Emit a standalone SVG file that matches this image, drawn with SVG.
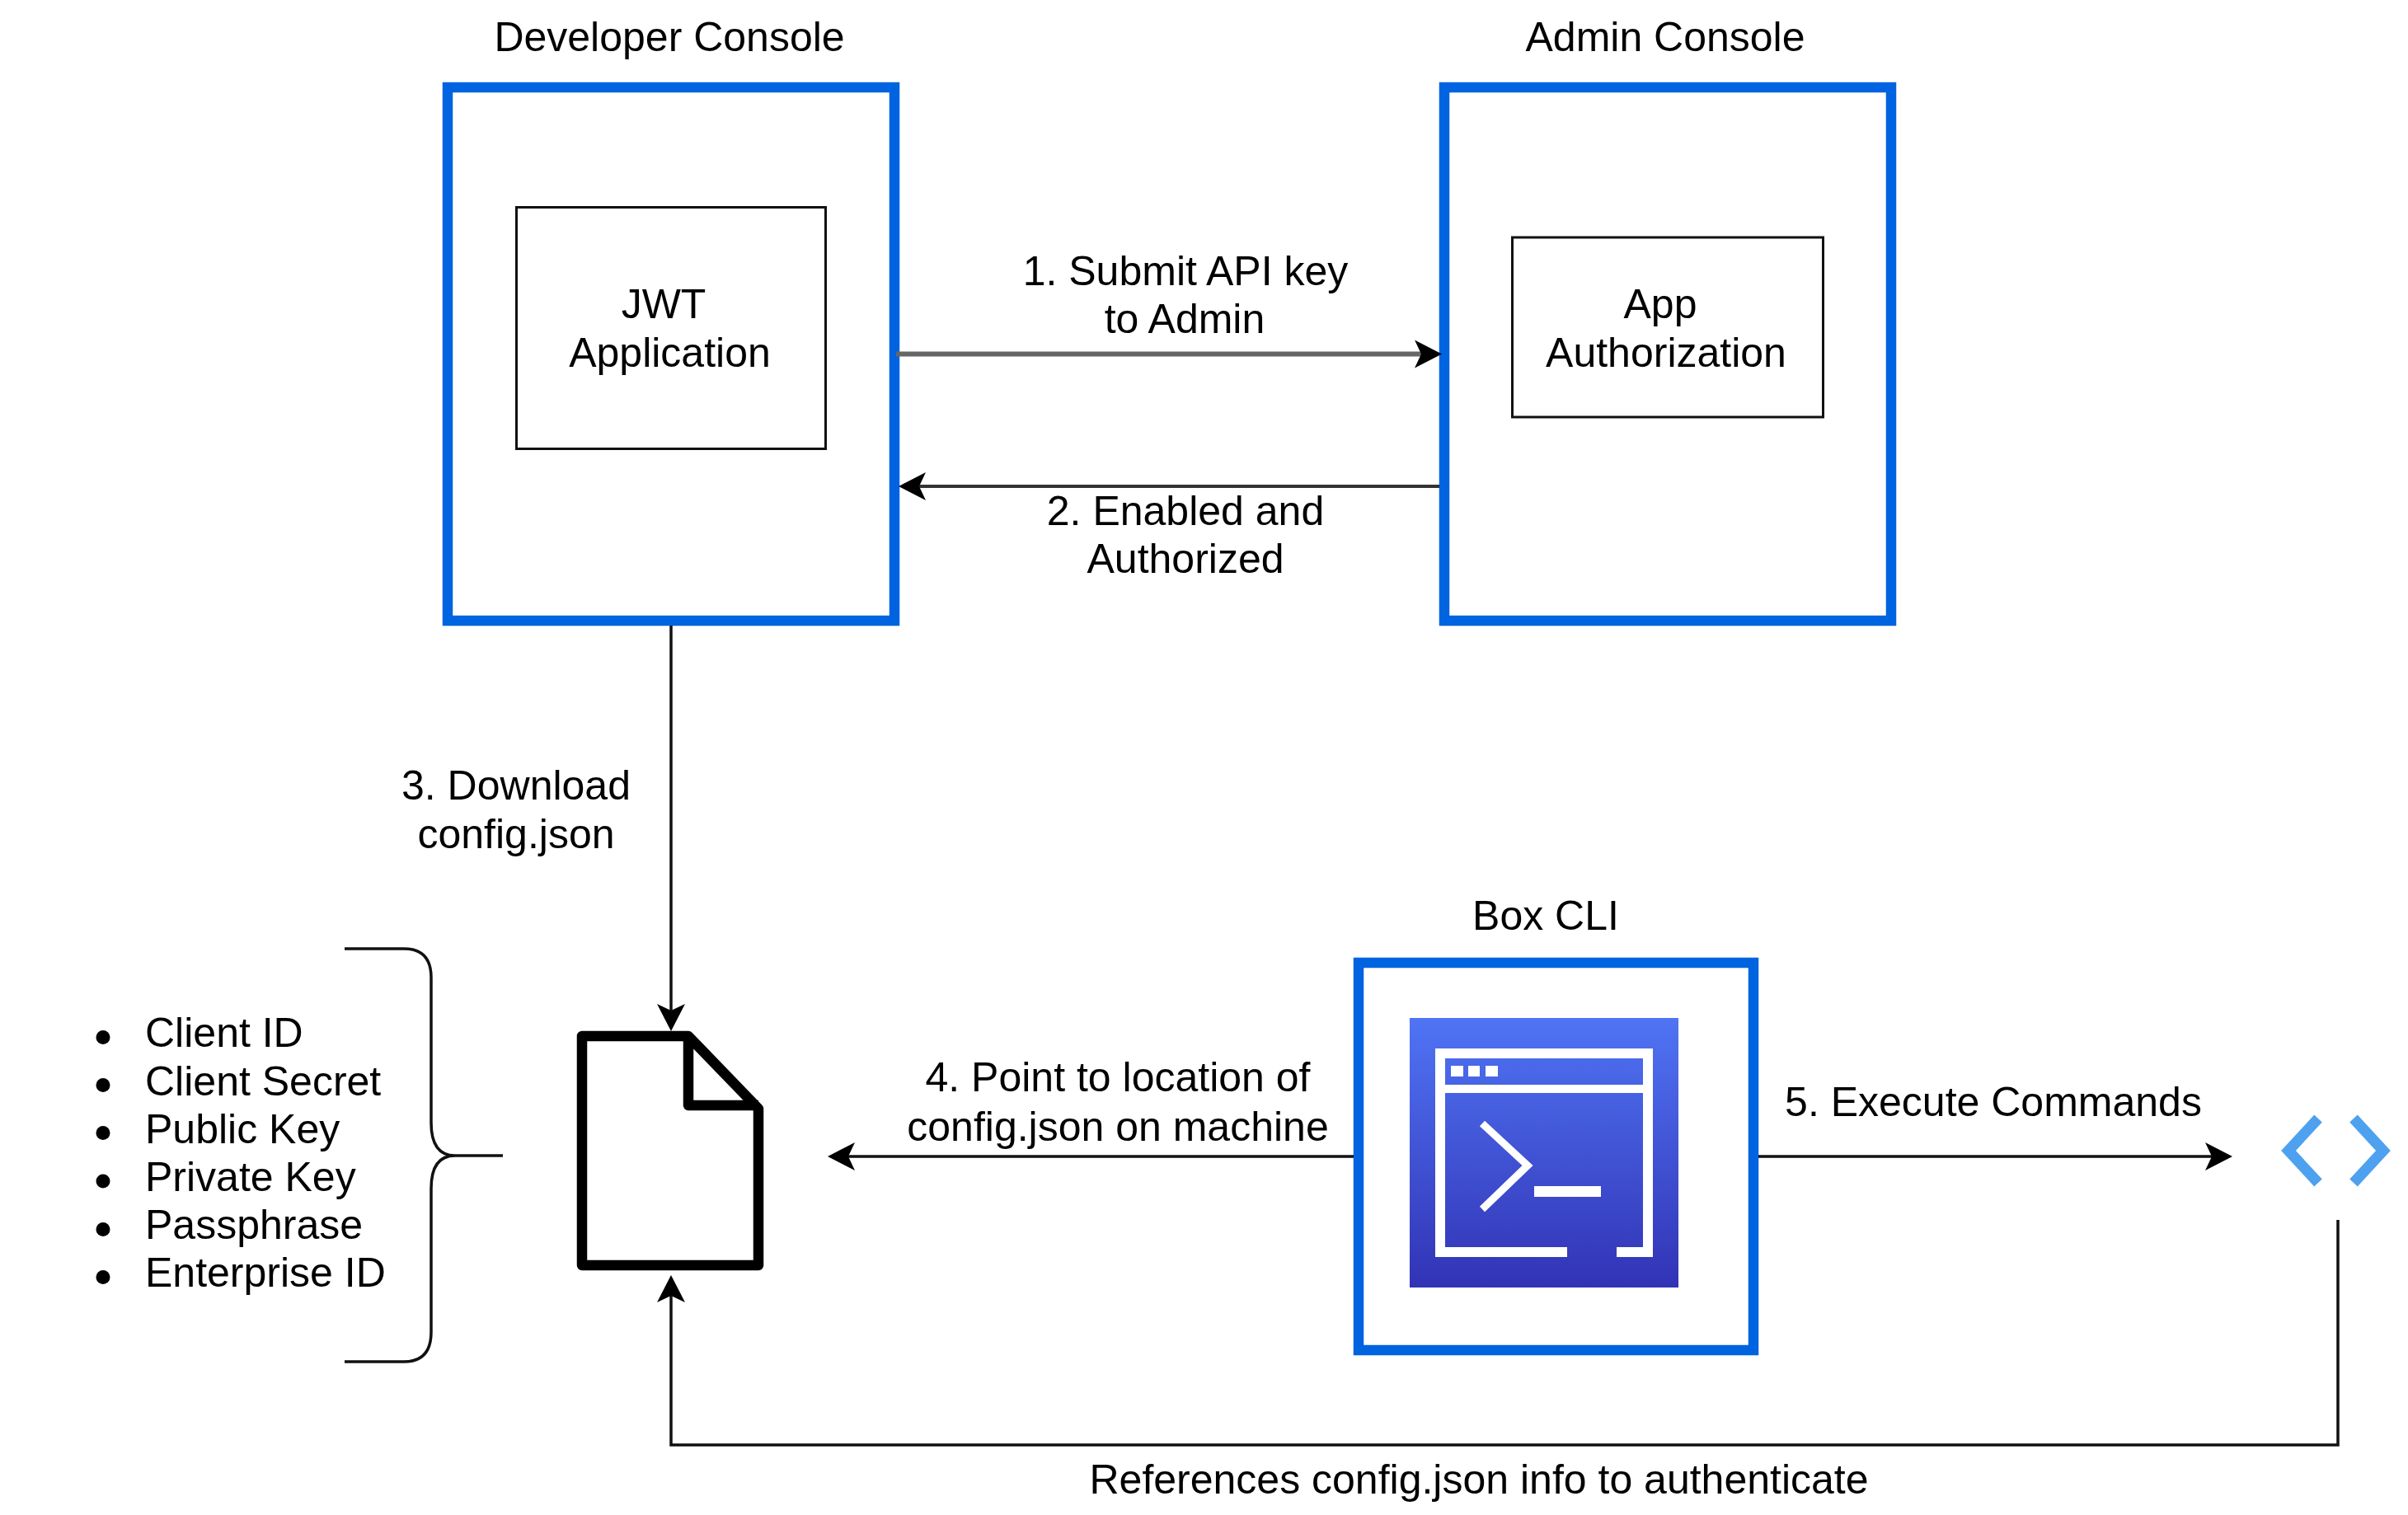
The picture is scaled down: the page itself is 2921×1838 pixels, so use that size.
<svg xmlns="http://www.w3.org/2000/svg" width="2921" height="1838" viewBox="0 0 2921 1838">
<style>
text{font-family:"Liberation Sans",Arial,Helvetica,sans-serif;font-size:50px;fill:#000;text-anchor:middle}
.box{fill:#fff;stroke:#0063e0;stroke-width:12.5}
.inner{fill:#fff;stroke:#111;stroke-width:3}
.conn{fill:none;stroke:#111;stroke-width:3.5}
.w{fill:none;stroke:#fff;stroke-width:12}
.lst{text-anchor:start}
</style>
<defs>
<marker id="a" markerUnits="userSpaceOnUse" markerWidth="40" markerHeight="40" refX="23" refY="17" orient="auto">
<path d="M33 17L0 0L8 17L0 34Z" fill="#000"/>
</marker>
<linearGradient id="g" x1="0" y1="0" x2="0" y2="1">
<stop offset="0" stop-color="#4f74f4"/>
<stop offset="1" stop-color="#3233b5"/>
</linearGradient>
</defs>
<rect width="2921" height="1838" fill="#fff"/>
<g id="developer-console">
<rect class="box" x="543" y="106" width="542" height="647"/>
<text x="812" y="62">Developer Console</text>
</g>
<g id="jwt-application">
<rect class="inner" x="626.500" y="251.500" width="375" height="293"/>
<text x="805" y="386">JWT</text>
<text x="812.500" y="445">Application</text>
</g>
<g id="admin-console">
<rect class="box" x="1752" y="106" width="542" height="647"/>
<text x="2020" y="62">Admin Console</text>
</g>
<g id="app-authorization">
<rect class="inner" x="1834.500" y="288" width="377" height="218"/>
<text x="2014" y="386">App</text>
<text x="2021" y="445">Authorization</text>
</g>
<g id="config-file">
<path d="M706 1257H835L920 1345V1535H706Z" fill="#fff" stroke="#000" stroke-width="12.500" stroke-linejoin="round"/>
<path d="M835 1257V1341H920" fill="none" stroke="#000" stroke-width="12.500" stroke-linejoin="round"/>
</g>
<g id="field-list">
<circle cx="125" cy="1258.500" r="8.500"/><text class="lst" x="176" y="1270">Client ID</text>
<circle cx="125" cy="1316.500" r="8.500"/><text class="lst" x="176" y="1329">Client Secret</text>
<circle cx="125" cy="1374.500" r="8.500"/><text class="lst" x="176" y="1387">Public Key</text>
<circle cx="125" cy="1433" r="8.500"/><text class="lst" x="176" y="1445">Private Key</text>
<circle cx="125" cy="1491.500" r="8.500"/><text class="lst" x="176" y="1503">Passphrase</text>
<circle cx="125" cy="1549.500" r="8.500"/><text class="lst" x="176" y="1561">Enterprise ID</text>
</g>
<g id="brace">
<path class="conn" d="M418 1151H490Q523 1151 523 1186V1362Q523 1402 552 1402H610M552 1402Q523 1402 523 1442V1616Q523 1652 490 1652H418"/>
</g>
<g id="box-cli">
<rect class="box" x="1648" y="1168" width="479" height="470"/>
<text x="1875" y="1128">Box CLI</text>
<rect x="1710" y="1235" width="326" height="327" fill="url(#g)"/>
<path class="w" d="M1901 1519H1747V1278H1999V1519H1961"/>
<path d="M1752 1321H1994" fill="none" stroke="#fff" stroke-width="10"/>
<path d="M1760 1293h15v13h-15zM1781 1293h14v13h-14zM1802 1293h15v13h-15z" fill="#fff"/>
<path d="M1798 1363L1853 1414L1798 1467" fill="none" stroke="#fff" stroke-width="9"/>
<rect x="1861" y="1439" width="81" height="13" fill="#fff"/>
</g>
<g id="code-icon">
<path d="M2812 1357L2776 1396L2812 1435M2855 1357L2891 1396L2855 1435" fill="none" stroke="#4ea1ee" stroke-width="13"/>
</g>
<g id="connectors">
<path d="M1087 429.500H1739" fill="none" stroke="#666" stroke-width="6" marker-end="url(#a)"/>
<path d="M1746 590H1100" fill="none" stroke="#333" stroke-width="4" marker-end="url(#a)"/>
<path class="conn" d="M814 759V1241" marker-end="url(#a)"/>
<path class="conn" d="M1642 1403H1014" marker-end="url(#a)"/>
<path class="conn" d="M2133 1403H2698" marker-end="url(#a)"/>
<path class="conn" d="M2836 1480V1753H814V1557" marker-end="url(#a)"/>
</g>
<g id="connector-labels">
<text x="1438" y="346">1. Submit API key</text>
<text x="1437" y="404">to Admin</text>
<text x="1438" y="637">2. Enabled and</text>
<text x="1438" y="695">Authorized</text>
<text x="626" y="970">3. Download</text>
<text x="626" y="1029">config.json</text>
<text x="1356" y="1324">4. Point to location of</text>
<text x="1356" y="1384">config.json on machine</text>
<text x="2418" y="1354">5. Execute Commands</text>
<text x="1794" y="1812">References config.json info to authenticate</text>
</g>
</svg>
